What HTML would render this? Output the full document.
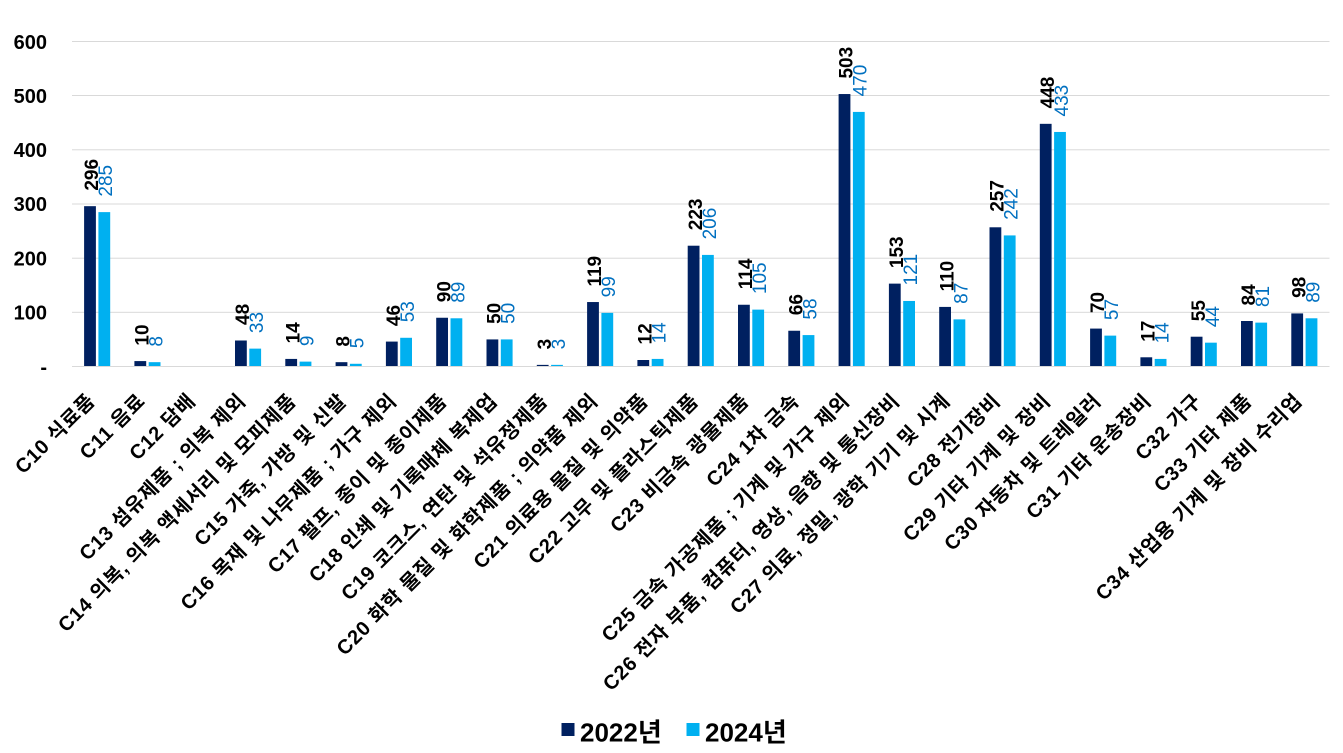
<!DOCTYPE html>
<html><head><meta charset="utf-8"><style>
html,body{margin:0;padding:0;background:#fff;}
svg{display:block;}
.ya{font-family:"Liberation Sans",sans-serif;font-weight:bold;font-size:20px;fill:#000;}
.dl{font-family:"Liberation Sans",sans-serif;font-weight:bold;font-size:19px;fill:#000;}
.bl{font-family:"Liberation Sans",sans-serif;font-weight:normal;font-size:19px;fill:#0070C0;}
.xl{font-family:"Liberation Sans","Noto Sans CJK KR",sans-serif;font-weight:bold;font-size:20px;letter-spacing:0.8px;fill:#000;}
.lg{font-family:"Liberation Sans","Noto Sans CJK KR",sans-serif;font-weight:bold;font-size:26px;fill:#000;}
</style></head><body>
<svg width="1343" height="753" viewBox="0 0 1343 753" xmlns="http://www.w3.org/2000/svg">
<g fill="#d9d9d9">
<rect x="72" y="41" width="1257.5" height="1"/>
<rect x="72" y="95" width="1257.5" height="1"/>
<rect x="72" y="149.3" width="1257.5" height="1"/>
<rect x="72" y="203.5" width="1257.5" height="1"/>
<rect x="72" y="257.7" width="1257.5" height="1"/>
<rect x="72" y="311.8" width="1257.5" height="1"/>
</g>
<g class="ya" text-anchor="end">
<text x="47" y="48.8">600</text>
<text x="47" y="102.8">500</text>
<text x="47" y="156.8">400</text>
<text x="47" y="211.2">300</text>
<text x="47" y="265.3">200</text>
<text x="47" y="319.3">100</text>
<text x="47" y="374">-</text>
</g>
<!-- bars -->
<g fill="#002060">
<rect x="84.1" y="206.17" width="11.8" height="160.33"/>
<rect x="134.4" y="361.08" width="11.8" height="5.42"/>
<rect x="235" y="340.5" width="11.8" height="26"/>
<rect x="285.3" y="358.92" width="11.8" height="7.58"/>
<rect x="335.6" y="362.17" width="11.8" height="4.33"/>
<rect x="385.9" y="341.58" width="11.8" height="24.92"/>
<rect x="436.2" y="317.75" width="11.8" height="48.75"/>
<rect x="486.5" y="339.42" width="11.8" height="27.08"/>
<rect x="536.8" y="364.875" width="11.8" height="1.625"/>
<rect x="587.1" y="302.04" width="11.8" height="64.46"/>
<rect x="637.4" y="360" width="11.8" height="6.5"/>
<rect x="687.7" y="245.71" width="11.8" height="120.79"/>
<rect x="738" y="304.75" width="11.8" height="61.75"/>
<rect x="788.3" y="330.75" width="11.8" height="35.75"/>
<rect x="838.6" y="94.04" width="11.8" height="272.46"/>
<rect x="888.9" y="283.625" width="11.8" height="82.875"/>
<rect x="939.2" y="306.92" width="11.8" height="59.58"/>
<rect x="989.5" y="227.29" width="11.8" height="139.21"/>
<rect x="1039.8" y="123.83" width="11.8" height="242.67"/>
<rect x="1090.1" y="328.58" width="11.8" height="37.92"/>
<rect x="1140.4" y="357.29" width="11.8" height="9.21"/>
<rect x="1190.7" y="336.71" width="11.8" height="29.79"/>
<rect x="1241" y="321" width="11.8" height="45.5"/>
<rect x="1291.3" y="313.42" width="11.8" height="53.08"/>
</g>
<g fill="#00B0F0">
<rect x="98.4" y="212.12" width="11.8" height="154.38"/>
<rect x="148.7" y="362.17" width="11.8" height="4.33"/>
<rect x="249.3" y="348.625" width="11.8" height="17.875"/>
<rect x="299.6" y="361.625" width="11.8" height="4.875"/>
<rect x="349.9" y="363.79" width="11.8" height="2.71"/>
<rect x="400.2" y="337.79" width="11.8" height="28.71"/>
<rect x="450.5" y="318.29" width="11.8" height="48.21"/>
<rect x="500.8" y="339.42" width="11.8" height="27.08"/>
<rect x="551.1" y="364.875" width="11.8" height="1.625"/>
<rect x="601.4" y="312.87" width="11.8" height="53.63"/>
<rect x="651.7" y="358.92" width="11.8" height="7.58"/>
<rect x="702" y="254.92" width="11.8" height="111.58"/>
<rect x="752.3" y="309.625" width="11.8" height="56.875"/>
<rect x="802.6" y="335.08" width="11.8" height="31.42"/>
<rect x="852.9" y="111.92" width="11.8" height="254.58"/>
<rect x="903.2" y="300.96" width="11.8" height="65.54"/>
<rect x="953.5" y="319.375" width="11.8" height="47.125"/>
<rect x="1003.8" y="235.42" width="11.8" height="131.08"/>
<rect x="1054.1" y="131.96" width="11.8" height="234.54"/>
<rect x="1104.4" y="335.625" width="11.8" height="30.875"/>
<rect x="1154.7" y="358.92" width="11.8" height="7.58"/>
<rect x="1205" y="342.67" width="11.8" height="23.83"/>
<rect x="1255.3" y="322.625" width="11.8" height="43.875"/>
<rect x="1305.6" y="318.29" width="11.8" height="48.21"/>
</g>
<rect x="72" y="366" width="1257.5" height="1" fill="#d9d9d9"/>
<!-- dark labels -->
<g class="dl">
<text transform="translate(98.15,190.67) rotate(-90)">296</text>
<text transform="translate(148.45,345.58) rotate(-90)">10</text>
<text transform="translate(249.05,325) rotate(-90)">48</text>
<text transform="translate(299.35,343.42) rotate(-90)">14</text>
<text transform="translate(349.65,346.67) rotate(-90)">8</text>
<text transform="translate(399.95,326.08) rotate(-90)">46</text>
<text transform="translate(450.25,302.25) rotate(-90)">90</text>
<text transform="translate(500.55,323.92) rotate(-90)">50</text>
<text transform="translate(550.85,349.375) rotate(-90)">3</text>
<text transform="translate(601.15,286.54) rotate(-90)">119</text>
<text transform="translate(651.45,344.5) rotate(-90)">12</text>
<text transform="translate(701.75,230.21) rotate(-90)">223</text>
<text transform="translate(752.05,289.25) rotate(-90)">114</text>
<text transform="translate(802.35,315.25) rotate(-90)">66</text>
<text transform="translate(852.65,78.54) rotate(-90)">503</text>
<text transform="translate(902.95,268.125) rotate(-90)">153</text>
<text transform="translate(953.25,291.42) rotate(-90)">110</text>
<text transform="translate(1003.55,211.79) rotate(-90)">257</text>
<text transform="translate(1053.85,108.33) rotate(-90)">448</text>
<text transform="translate(1104.15,313.08) rotate(-90)">70</text>
<text transform="translate(1154.45,341.79) rotate(-90)">17</text>
<text transform="translate(1204.75,321.21) rotate(-90)">55</text>
<text transform="translate(1255.05,305.5) rotate(-90)">84</text>
<text transform="translate(1305.35,297.92) rotate(-90)">98</text>
</g>
<g class="bl">
<text transform="translate(112.15,196.62) rotate(-90)">285</text>
<text transform="translate(162.45,346.67) rotate(-90)">8</text>
<text transform="translate(263.05,333.125) rotate(-90)">33</text>
<text transform="translate(313.35,346.125) rotate(-90)">9</text>
<text transform="translate(363.65,348.29) rotate(-90)">5</text>
<text transform="translate(413.95,322.29) rotate(-90)">53</text>
<text transform="translate(464.25,302.79) rotate(-90)">89</text>
<text transform="translate(514.55,323.92) rotate(-90)">50</text>
<text transform="translate(564.85,349.375) rotate(-90)">3</text>
<text transform="translate(615.15,297.37) rotate(-90)">99</text>
<text transform="translate(665.45,343.42) rotate(-90)">14</text>
<text transform="translate(715.75,239.42) rotate(-90)">206</text>
<text transform="translate(766.05,294.125) rotate(-90)">105</text>
<text transform="translate(816.35,319.58) rotate(-90)">58</text>
<text transform="translate(866.65,96.42) rotate(-90)">470</text>
<text transform="translate(916.95,285.46) rotate(-90)">121</text>
<text transform="translate(967.25,303.875) rotate(-90)">87</text>
<text transform="translate(1017.55,219.92) rotate(-90)">242</text>
<text transform="translate(1067.85,116.46) rotate(-90)">433</text>
<text transform="translate(1118.15,320.125) rotate(-90)">57</text>
<text transform="translate(1168.45,343.42) rotate(-90)">14</text>
<text transform="translate(1218.75,327.17) rotate(-90)">44</text>
<text transform="translate(1269.05,307.125) rotate(-90)">81</text>
<text transform="translate(1319.35,302.79) rotate(-90)">89</text>
</g>
<!-- category labels -->
<g class="xl" text-anchor="end">
<text transform="translate(96.15,402) rotate(-45)">C10 식료품</text>
<text transform="translate(146.45,402) rotate(-45)">C11 음료</text>
<text transform="translate(196.75,402) rotate(-45)">C12 담배</text>
<text transform="translate(247.05,402) rotate(-45)">C13 섬유제품 ; 의복 제외</text>
<text transform="translate(297.35,402) rotate(-45)">C14 의복, 의복 액세서리 및 모피제품</text>
<text transform="translate(347.65,402) rotate(-45)">C15 가죽, 가방 및 신발</text>
<text transform="translate(397.95,402) rotate(-45)">C16 목재 및 나무제품 ; 가구 제외</text>
<text transform="translate(448.25,402) rotate(-45)">C17 펄프, 종이 및 종이제품</text>
<text transform="translate(498.55,402) rotate(-45)">C18 인쇄 및 기록매체 복제업</text>
<text transform="translate(548.85,402) rotate(-45)">C19 코크스, 연탄 및 석유정제품</text>
<text transform="translate(599.15,402) rotate(-45)">C20 화학 물질 및 화학제품 ; 의약품 제외</text>
<text transform="translate(649.45,402) rotate(-45)">C21 의료용 물질 및 의약품</text>
<text transform="translate(699.75,402) rotate(-45)">C22 고무 및 플라스틱제품</text>
<text transform="translate(750.05,402) rotate(-45)">C23 비금속 광물제품</text>
<text transform="translate(800.35,402) rotate(-45)">C24 1차 금속</text>
<text transform="translate(850.65,402) rotate(-45)">C25 금속 가공제품 ; 기계 및 가구 제외</text>
<text transform="translate(900.95,402) rotate(-45)">C26 전자 부품, 컴퓨터, 영상, 음향 및 통신장비</text>
<text transform="translate(951.25,402) rotate(-45)">C27 의료, 정밀, 광학 기기 및 시계</text>
<text transform="translate(1001.55,402) rotate(-45)">C28 전기장비</text>
<text transform="translate(1051.85,402) rotate(-45)">C29 기타 기계 및 장비</text>
<text transform="translate(1102.15,402) rotate(-45)">C30 자동차 및 트레일러</text>
<text transform="translate(1152.45,402) rotate(-45)">C31 기타 운송장비</text>
<text transform="translate(1202.75,402) rotate(-45)">C32 가구</text>
<text transform="translate(1253.05,402) rotate(-45)">C33 기타 제품</text>
<text transform="translate(1303.35,402) rotate(-45)">C34 산업용 기계 및 장비 수리업</text>
</g>
<!-- legend -->
<rect x="561.5" y="723" width="13" height="13" fill="#002060"/>
<text class="lg" x="580" y="741.5">2022년</text>
<rect x="686.5" y="723" width="13" height="13" fill="#00B0F0"/>
<text class="lg" x="705" y="741.5">2024년</text>
</svg>
</body></html>
